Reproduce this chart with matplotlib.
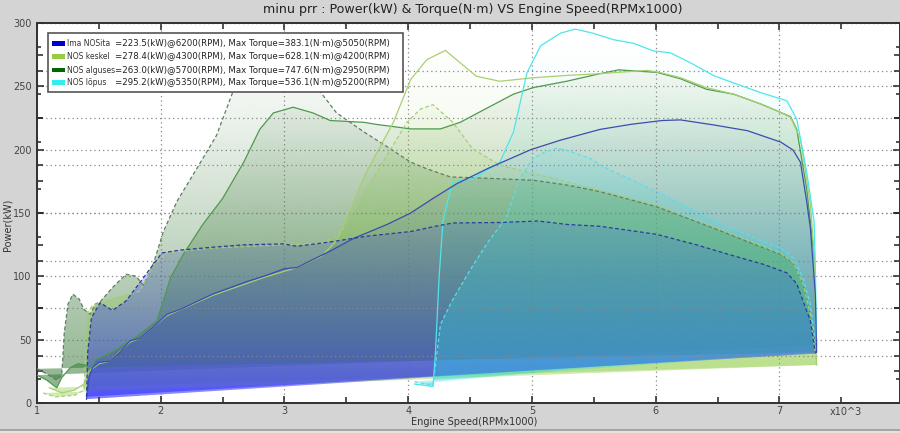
import numpy as np
import matplotlib
matplotlib.use("Agg")
import matplotlib.pyplot as plt
import matplotlib.colors as mcolors
from matplotlib.patches import Polygon, Rectangle
from matplotlib.lines import Line2D
from matplotlib.ticker import MultipleLocator

# ---- data (RPM x1000, power kW, torque N·m) ----
ima_pw_x = [1.40, 1.42, 1.45, 1.50, 1.59, 1.67, 1.75, 1.83, 1.94, 2.05, 2.16, 2.42, 2.70, 2.83, 3.00, 3.10,
            3.37, 3.56, 3.83, 4.02, 4.20, 4.39, 4.64, 4.99, 5.23, 5.55, 5.80, 6.05, 6.20, 6.47, 6.74, 7.01,
            7.11, 7.17, 7.22, 7.25, 7.29, 7.30]
ima_pw = [3, 20, 28, 32, 33, 40, 49, 51, 60, 70, 74, 86, 96, 100, 106, 107,
          120, 130, 141, 150, 161.5, 173, 185, 200, 207.5, 216, 220, 223, 223.5, 219.5, 215, 206,
          199.7, 190, 159, 138, 86, 40]
ima_tq_x = [1.40, 1.41, 1.44, 1.51, 1.61, 1.72, 1.83, 1.94, 2.01, 2.16, 2.42, 2.67, 2.99, 3.10, 3.37, 3.66,
            4.02, 4.20, 4.36, 4.74, 5.05, 5.28, 5.55, 5.66, 6.01, 6.33, 6.60, 6.87, 7.06, 7.14, 7.19, 7.25, 7.29]
ima_tq = [13, 107, 180, 211, 195, 215, 253, 292, 316, 322, 328, 333, 335, 330, 339, 351,
          361, 371, 379, 380, 383.1, 376, 372, 368, 355, 333, 312, 292, 274, 251, 215, 173, 104]

kesk_pw_x = [1.10, 1.20, 1.30, 1.38, 1.42, 1.50, 1.59, 1.75, 1.83, 1.94, 2.05, 2.42, 2.83, 3.10, 3.30, 3.42,
             3.66, 3.88, 4.02, 4.15, 4.30, 4.39, 4.55, 4.74, 5.01, 5.28, 5.55, 5.66, 5.93, 6.04, 6.20, 6.41,
             6.63, 6.85, 7.01, 7.09, 7.17, 7.25, 7.28, 7.30]
kesk_pw = [12, 8, 10, 15, 25, 31, 33, 48, 51, 60, 69, 85, 99, 107, 116, 128,
           182, 221.6, 255.5, 271, 278.4, 271, 258, 254, 256.8, 258.6, 260, 260.8, 262.6, 260.8, 256.8, 249,
           243.8, 236, 229.4, 225.5, 208.5, 156.6, 117, 30]
kesk_tq_x = [1.05, 1.15, 1.30, 1.38, 1.41, 1.45, 1.60, 1.83, 1.94, 2.05, 2.40, 3.00, 3.30, 3.45, 3.66, 3.83,
             3.99, 4.10, 4.20, 4.36, 4.52, 4.74, 5.01, 5.28, 5.55, 6.01, 6.47, 6.74, 7.01, 7.11, 7.19, 7.25, 7.30]
kesk_tq = [21, 13, 16, 27, 192, 205, 219, 235, 290, 316, 326, 333, 336, 355, 451, 522,
           591, 619, 628.1, 591, 535, 501, 483, 466, 448, 416, 371, 343, 315, 296, 251, 187, 80]

alg_pw_x = [1.00, 1.08, 1.16, 1.20, 1.27, 1.33, 1.39, 1.43, 1.47, 1.60, 1.80, 1.97, 2.08, 2.18, 2.34, 2.50,
            2.67, 2.80, 2.91, 3.07, 3.23, 3.37, 3.64, 3.74, 4.02, 4.26, 4.42, 4.64, 4.85, 5.01, 5.28, 5.55,
            5.70, 6.01, 6.20, 6.41, 6.63, 6.85, 7.01, 7.09, 7.14, 7.22, 7.28, 7.30]
alg_pw = [22, 18, 12, 20, 28, 31, 30, 26, 34, 40, 52, 65, 99, 117, 141, 161.5,
          190, 216, 229, 233.5, 229, 223, 221.6, 220, 216.4, 216.4, 221.6, 233, 243.8, 249, 254, 260,
          263.0, 261, 256, 247.7, 243.8, 236, 229.4, 226, 216, 169, 117, 45]
alg_tq_x = [1.00, 1.08, 1.16, 1.20, 1.22, 1.25, 1.29, 1.34, 1.38, 1.43, 1.47, 1.51, 1.61, 1.72, 1.80, 1.86,
            1.94, 2.02, 2.13, 2.29, 2.45, 2.58, 2.64, 2.80, 2.95, 3.10, 3.31, 3.42, 3.64, 3.85, 4.02, 4.15,
            4.34, 4.74, 5.01, 5.28, 5.55, 6.01, 6.47, 6.74, 7.01, 7.11, 7.19, 7.25, 7.30]
alg_tq = [72, 61, 48, 59, 147, 208, 229, 219, 197, 187, 208, 213, 243, 271, 267, 248,
          293, 360, 424, 493, 563, 653, 696, 736, 747.6, 720, 648, 611, 571, 536, 507, 493,
          476, 472, 469, 459, 445, 413, 368, 340, 313, 295, 251, 187, 107]

lop_pw_x = [4.05, 4.20, 4.22, 4.25, 4.28, 4.32, 4.36, 4.45, 4.52, 4.74, 4.85, 4.96, 5.07, 5.23, 5.35, 5.49,
            5.66, 5.82, 5.98, 6.12, 6.28, 6.47, 6.66, 6.85, 6.98, 7.06, 7.14, 7.22, 7.28, 7.29, 7.30]
lop_pw = [15, 13, 40, 100, 143, 160, 174.6, 176, 177, 190, 213.8, 260.8, 282, 292, 295.2, 292,
          286.8, 284, 278, 276.4, 268.6, 258.4, 251.6, 245, 241, 238.6, 224, 182.5, 143, 108, 45]
lop_tq_x = [4.05, 4.20, 4.26, 4.35, 4.50, 4.65, 4.79, 4.90, 5.01, 5.10, 5.20, 5.28, 5.39, 5.47, 5.55, 5.66,
            6.01, 6.33, 6.60, 6.87, 7.01, 7.11, 7.19, 7.25, 7.30]
lop_tq = [45, 37, 165, 213, 280, 341, 389, 472, 515, 528, 536.1, 532, 522, 515, 501, 487,
          445, 403, 368, 340, 326, 306, 264, 208, 107]

names = ["Ima NOSita", "NOS keskel", "NOS alguses", "NOS lõpus"]
summaries = ["=223.5(kW)@6200(RPM), Max Torque=383.1(N·m)@5050(RPM)",
             "=278.4(kW)@4300(RPM), Max Torque=628.1(N·m)@4200(RPM)",
             "=263.0(kW)@5700(RPM), Max Torque=747.6(N·m)@2950(RPM)",
             "=295.2(kW)@5350(RPM), Max Torque=536.1(N·m)@5200(RPM)"]
legend_colors = ["#0000cc", "#99cc44", "#006600", "#33eeee"]
fill_colors = ["#3030ff", "#8fcc44", "#3a7a3a", "#30dce4"]
fill_alpha = [0.62, 0.42, 0.6, 0.38]
fill_power = [2.2, 1.2, 1.2, 1.2]   # how fast each fill fades upwards
pw_colors = ["#3a4db0", "#a8d070", "#4e9a4e", "#4ee6ec"]
tq_colors = ["#2a3c9c", "#a8cc78", "#5f7f5f", "#60dce6"]

PW_MAX = 300
TQ_MAX = 800
XMIN, XMAX = 1, 7.97
FADE_TOP = 290  # kW level where the fill fades out

pw_x = [ima_pw_x, kesk_pw_x, alg_pw_x, lop_pw_x]
pw_y = [ima_pw, kesk_pw, alg_pw, lop_pw]
tq_x = [ima_tq_x, kesk_tq_x, alg_tq_x, lop_tq_x]
tq_y = [ima_tq, kesk_tq, alg_tq, lop_tq]

BG = "#d4d4d4"
fig = plt.figure(figsize=(9, 4.33), dpi=100, facecolor=BG)
ax = fig.add_axes([37 / 900, 30 / 433, 862.5 / 900, 380 / 433])
ax2 = ax.twinx()


def gradient_fill(target, x, y, color, amax, expo, ymax, trans):
    # polygon of the curve (closed back to its start), filled with a vertical fade
    poly = Polygon(np.column_stack([x, y]), closed=True, facecolor="none",
                   edgecolor="none", transform=trans)
    target.add_patch(poly)
    yy = np.linspace(0, 1, 256)
    img = np.zeros((256, 1, 4))
    img[..., :3] = mcolors.to_rgb(color)
    img[:, 0, 3] = amax * np.clip(1 - yy * PW_MAX / FADE_TOP, 0, 1) ** expo
    im = target.imshow(img, extent=[XMIN, XMAX, 0, ymax], origin="lower",
                       aspect="auto", interpolation="bilinear", transform=trans, zorder=1)
    im.set_clip_path(poly)


order = [2, 1, 0, 3]
for i in order:
    gradient_fill(ax, pw_x[i], pw_y[i], fill_colors[i], fill_alpha[i], fill_power[i],
                  PW_MAX, ax.transData)
for i in order:
    gradient_fill(ax2, tq_x[i], tq_y[i], fill_colors[i], fill_alpha[i], fill_power[i],
                  TQ_MAX, ax2.transData)

# lines on top
for i in [2, 1, 3, 0]:
    ax2.plot(pw_x[i], pw_y[i], color=pw_colors[i], lw=0.9, transform=ax.transData, zorder=5)
    ax2.plot(tq_x[i], tq_y[i], color=tq_colors[i], lw=0.9, ls=(0, (3, 2)), zorder=5)

ax.set_xlim(XMIN, XMAX)
ax.set_ylim(0, PW_MAX)
ax2.set_ylim(0, TQ_MAX)

ax.xaxis.set_major_locator(MultipleLocator(1))
ax.xaxis.set_minor_locator(MultipleLocator(0.5))
ax.yaxis.set_major_locator(MultipleLocator(50))
ax.yaxis.set_minor_locator(MultipleLocator(25))
ax2.yaxis.set_major_locator(MultipleLocator(100))
ax2.yaxis.set_minor_locator(MultipleLocator(50))

ax.set_xticks(range(1, 8))
ax.set_xticklabels([str(v) for v in range(1, 8)])
ax.tick_params(axis="both", which="both", direction="in", top=True, right=True,
               labelsize=7, labelcolor="#444444", color="#222222", width=1.1)
ax.tick_params(which="major", length=5)
ax.tick_params(which="minor", length=4)
ax.tick_params(axis="x", pad=2)
ax.tick_params(axis="y", pad=4)
ax2.tick_params(axis="y", which="both", direction="in", left=True, right=True,
                labelleft=False, labelright=False, color="#222222", width=1.1)
ax2.tick_params(which="major", length=4)
ax2.tick_params(which="minor", length=3)

grid_kw = dict(color="#888888", ls=(0, (1, 2.5)), lw=0.9)
ax.grid(True, which="major", **grid_kw)
ax2.grid(True, which="major", axis="y", **grid_kw)
ax.set_axisbelow(False)
ax.set_facecolor("white")
for a in (ax, ax2):
    for s in a.spines.values():
        s.set_color("#333333")
        s.set_linewidth(1.3)

# legend box
ax2.add_patch(Rectangle((0.0128, 0.818), 0.4112, 0.156, transform=ax2.transAxes,
                        facecolor="white", edgecolor="#555555", lw=1.2, zorder=10))
row_y = [0.9466, 0.9118, 0.8763, 0.8429]
for i in range(4):
    ax2.add_patch(Rectangle((0.0174, row_y[i] - 0.0065), 0.0151, 0.013, transform=ax2.transAxes,
                            facecolor=legend_colors[i], edgecolor="none", zorder=11))
    ax2.text(0.0348, row_y[i], names[i], transform=ax2.transAxes, fontsize=5.5,
             color="#333333", va="center", ha="left", zorder=12)
    ax2.text(0.0906, row_y[i], summaries[i], transform=ax2.transAxes, fontsize=6.2,
             color="#222222", va="center", ha="left", zorder=12)

fig.text(0.5256, 0.977, "minu prr : Power(kW) & Torque(N·m) VS Engine Speed(RPMx1000)",
         ha="center", va="center", fontsize=9.1, color="#222222")
fig.text(0.527, 0.0254, "Engine Speed(RPMx1000)", ha="center", va="center", fontsize=7, color="#333333")
fig.text(0.0085, 0.48, "Power(kW)", ha="center", va="center", rotation=90, fontsize=7, color="#333333")
fig.text(0.922, 0.049, "x10^3", ha="left", va="center", fontsize=7, color="#444444")

fig.add_artist(Line2D([0, 1], [3.5 / 433, 3.5 / 433], color="#9a9a9a", lw=1.2))
fig.add_artist(Rectangle((0, 0), 1, 3 / 433, transform=fig.transFigure, facecolor="#e6e2d6",
                         edgecolor="none"))

fig.savefig("out.png", dpi=100, facecolor=BG)
